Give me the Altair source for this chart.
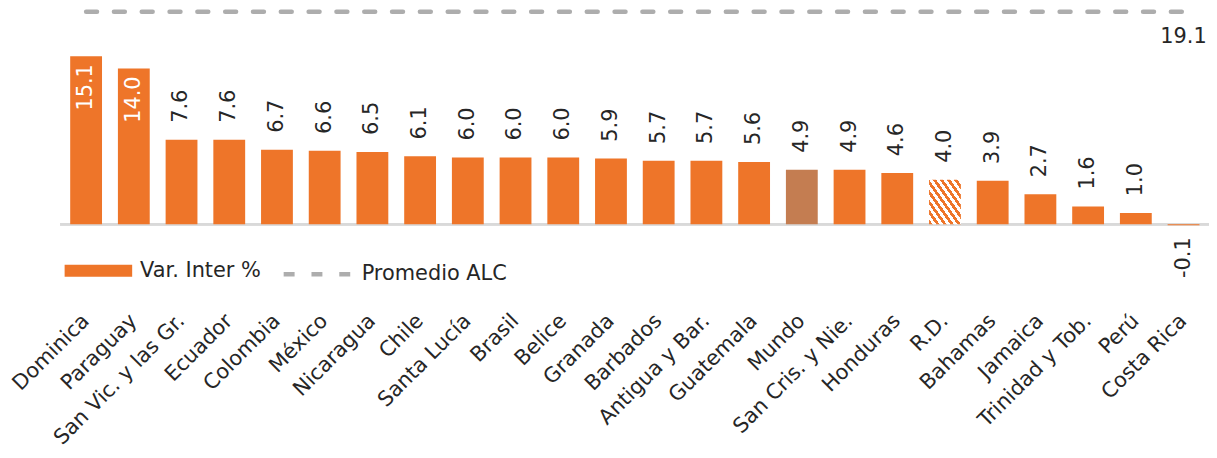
import altair as alt
import pandas as pd

paises = ["Dominica", "Paraguay", "San Vic. y las Gr.", "Ecuador", "Colombia", "México",
          "Nicaragua", "Chile", "Santa Lucía", "Brasil", "Belice", "Granada", "Barbados",
          "Antigua y Bar.", "Guatemala", "Mundo", "San Cris. y Nie.", "Honduras", "R.D.",
          "Bahamas", "Jamaica", "Trinidad y Tob.", "Perú", "Costa Rica"]
var_inter = [15.1, 14.0, 7.6, 7.6, 6.7, 6.6, 6.5, 6.1, 6.0, 6.0, 6.0, 5.9, 5.7, 5.7, 5.6,
             4.9, 4.9, 4.6, 4.0, 3.9, 2.7, 1.6, 1.0, -0.1]
promedio_alc = 19.1
serie_barras = "Var. Inter %"
serie_linea = "Promedio ALC"
pais_mundo = "Mundo"
pais_rayado = "R.D."

ORANGE = "#EE7529"
BROWN = "#C47D51"
GREY = "#ADADAD"
TXT = "#262626"
FONT = "DejaVu Sans"

df = pd.DataFrame({
    "pais": paises,
    "valor": var_inter,
    "promedio": [promedio_alc] * len(paises),
    "serie": [serie_barras] * len(paises),
    "serie2": [serie_linea] * len(paises),
})

yscale = alt.Scale(domain=[-7.66, 19.3], nice=False, zero=False)
x = alt.X("pais:N", sort=paises, title=None,
          scale=alt.Scale(paddingInner=0.333, paddingOuter=0.2),
          axis=alt.Axis(labelAngle=-45, labelAlign="right", labelBaseline="middle",
                        labelFontSize=21, labelFont=FONT, labelColor=TXT,
                        labelPadding=8, ticks=False, domain=False, grid=False,
                        labelLimit=400, labelOverlap=False))

base = alt.Chart(df).transform_calculate(
    label="replace(format(datum.valor, '.1f'), '\u2212', '-')",
    cero="0",
)

zero = base.mark_rule(color="#D9D9D9", strokeWidth=2).encode(
    y=alt.Y("cero:Q", scale=yscale, axis=None)
)

bars = base.transform_filter(
    f"datum.pais !== '{pais_rayado}' && datum.pais !== '{pais_mundo}'"
).mark_bar().encode(
    x=x,
    y=alt.Y("valor:Q", scale=yscale, axis=None),
    color=alt.Color("serie:N",
                    scale=alt.Scale(domain=[serie_barras], range=[ORANGE]),
                    legend=alt.Legend(title=None, orient="none", legendX=4, legendY=229,
                                      symbolType="M-1,-0.176L1,-0.176L1,0.176L-1,0.176Z",
                                      symbolSize=4624, symbolStrokeWidth=0,
                                      labelFontSize=21, labelFont=FONT, labelColor=TXT,
                                      labelOffset=8, labelLimit=400, padding=0)),
)

mundo = base.transform_filter(f"datum.pais === '{pais_mundo}'").mark_bar(fill=BROWN).encode(
    x=x, y=alt.Y("valor:Q", scale=yscale, axis=None)
)

stops = []
n_str = 9
for i in range(n_str):
    a = i / n_str
    b = (i + 0.5) / n_str
    c = (i + 1) / n_str
    stops += [alt.GradientStop(color=ORANGE, offset=a), alt.GradientStop(color=ORANGE, offset=b),
              alt.GradientStop(color="#FFFFFF", offset=b), alt.GradientStop(color="#FFFFFF", offset=c)]
hatch = alt.LinearGradient(gradient="linear", stops=stops, x1=0, y1=1, x2=1, y2=0)

rd = base.transform_filter(f"datum.pais === '{pais_rayado}'").mark_bar(fill=hatch).encode(
    x=x, y=alt.Y("valor:Q", scale=yscale, axis=None)
)

line = base.mark_line(color=GREY, strokeWidth=4.5, strokeCap="round").encode(
    x=x,
    y=alt.Y("promedio:Q", scale=yscale, axis=None),
    strokeDash=alt.StrokeDash("serie2:N",
                              scale=alt.Scale(domain=[serie_linea], range=[[11, 17]]),
                              legend=alt.Legend(title=None, orient="none", legendX=222, legendY=229,
                                                symbolType="stroke", symbolSize=4900,
                                                symbolStrokeColor=GREY, symbolStrokeWidth=4.5,
                                                labelFontSize=21, labelFont=FONT, labelColor=TXT,
                                                labelOffset=6, labelLimit=400, padding=0)),
)

prom_label = base.transform_filter(f"datum.pais === '{paises[-1]}'").mark_text(
    dy=15, baseline="top", align="center", fontSize=21, font=FONT, color=TXT
).encode(x=x, y=alt.Y("promedio:Q", scale=yscale), text=alt.Text("promedio:Q", format=".1f"))

lab_out = base.transform_filter("datum.valor >= 0 && datum.valor < 10").mark_text(
    angle=270, align="left", baseline="middle", dx=17, fontSize=21, font=FONT, color=TXT
).encode(x=x, y=alt.Y("valor:Q", scale=yscale), text="label:N")

lab_in = base.transform_filter("datum.valor >= 10").mark_text(
    angle=270, align="right", baseline="middle", dx=-8, fontSize=21, font=FONT, color="#FFFFFF"
).encode(x=x, y=alt.Y("valor:Q", scale=yscale), text="label:N")

lab_neg = base.transform_filter("datum.valor < 0").mark_text(
    angle=270, align="right", baseline="middle", dx=-12, fontSize=21, font=FONT, color=TXT
).encode(x=x, y=alt.Y("valor:Q", scale=yscale), text="label:N")

chart = alt.layer(zero, bars, mundo, rd, line, prom_label, lab_out, lab_in, lab_neg).properties(
    width=1156, height=302,
    padding={"left": 53, "top": 0, "right": 0, "bottom": 144},
    autosize=alt.AutoSizeParams(type="none"),
).configure_view(stroke=None)

chart.save("out.html", embed_options={"renderer": "svg", "actions": False})
